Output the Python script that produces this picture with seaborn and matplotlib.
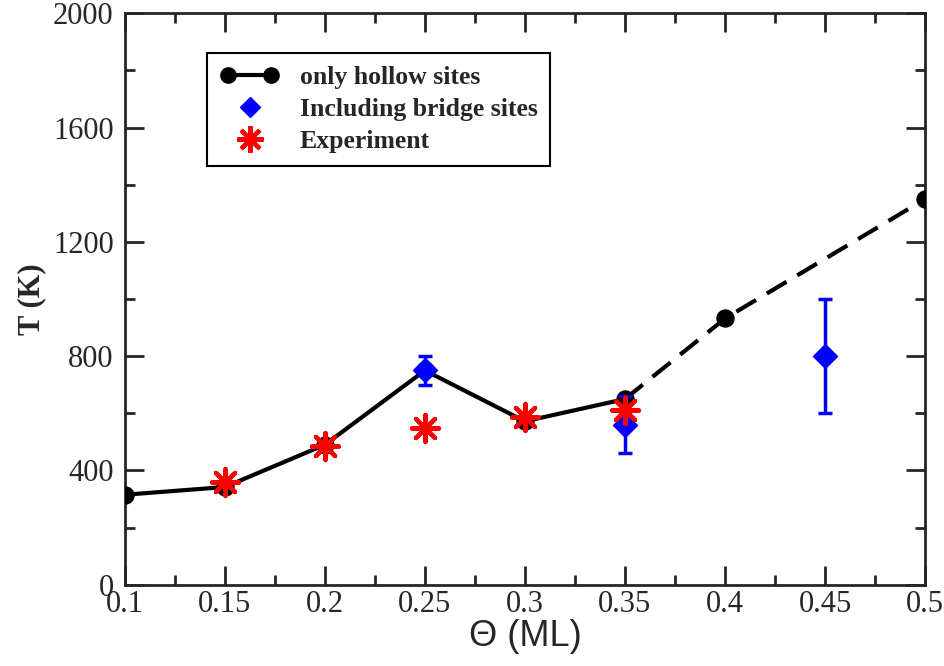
import numpy as np
import pandas as pd
import matplotlib
matplotlib.use('Agg')
import matplotlib.pyplot as plt
import seaborn as sns
from matplotlib.ticker import MultipleLocator
from matplotlib.lines import Line2D
from matplotlib.legend_handler import HandlerLine2D

# data
theta_hollow = [0.1, 0.15, 0.2, 0.25, 0.3, 0.35, 0.4, 0.5]
T_hollow = [315, 342, 490, 750, 572, 650, 932, 1350]
theta_bridge = [0.25, 0.35, 0.45]
T_bridge = [750, 560, 800]
T_bridge_err = [50, 100, 200]
theta_exp = [0.15, 0.2, 0.25, 0.3, 0.35]
T_exp = [358, 485, 550, 587, 612]

sns.set_style('ticks')
plt.rcParams['font.family'] = ['Liberation Serif', 'DejaVu Serif']

df_h = pd.DataFrame({'theta': theta_hollow, 'T': T_hollow})
solid = df_h[df_h.theta <= 0.35]
dashed = df_h[df_h.theta >= 0.35]

fig = plt.figure(figsize=(9.45, 6.66), dpi=100)
ax = fig.add_axes([0.132, 0.122, 0.847, 0.858])

sns.lineplot(data=solid, x='theta', y='T', ax=ax, color='black', lw=3, zorder=2)
sns.lineplot(data=dashed, x='theta', y='T', ax=ax, color='black', lw=3,
             linestyle=(0, (5.5, 3)), zorder=2)
sns.scatterplot(data=df_h, x='theta', y='T', ax=ax, color='black', s=150,
                marker='o', edgecolor='black', zorder=3)

ax.errorbar(theta_bridge, T_bridge, yerr=T_bridge_err, fmt='none', ecolor='blue',
            elinewidth=2.5, capsize=5, capthick=2.5, zorder=4)
sns.scatterplot(x=theta_bridge, y=T_bridge, ax=ax, color='blue', marker='D',
                s=150, edgecolor='blue', zorder=5)
sns.scatterplot(x=theta_exp, y=T_exp, ax=ax, color='red', marker=(8, 2, 0),
                s=380, linewidth=3, edgecolor='red', zorder=6)

ax.set_xlim(0.1, 0.5)
ax.set_ylim(0, 2000)
ax.xaxis.set_minor_locator(MultipleLocator(0.025))
ax.yaxis.set_major_locator(MultipleLocator(400))
ax.yaxis.set_minor_locator(MultipleLocator(200))
ax.set_xticks(np.arange(0.1, 0.501, 0.05))
ax.set_xticklabels(['0.1', '0.15', '0.2', '0.25', '0.3', '0.35', '0.4', '0.45', '0.5'])
ax.tick_params(which='both', direction='in', top=True, right=True, width=2,
               labelsize=22)
ax.tick_params(axis='x', pad=4)
ax.tick_params(axis='y', pad=8)
ax.tick_params(which='major', length=14)
ax.tick_params(which='minor', length=7)
for sp in ax.spines.values():
    sp.set_linewidth(2)

ax.set_xlabel('Θ (ML)', family='Liberation Sans', fontsize=26, labelpad=0)
ax.set_ylabel('T (K)', fontsize=22, fontweight='bold', labelpad=5)

handles = [
    Line2D([], [], color='black', lw=3, marker='o', markersize=11),
    Line2D([], [], color='blue', lw=0, marker='D', markersize=10),
    Line2D([], [], color='red', lw=0, marker=(8, 2, 0), markersize=19, markeredgewidth=3),
]
labels = ['only hollow sites', 'Including bridge sites', 'Experiment']
leg = ax.legend(handles, labels, loc='upper left', bbox_to_anchor=(0.103, 0.93),
                frameon=True, fancybox=False, edgecolor='black', framealpha=1,
                prop={'family': 'Liberation Serif', 'weight': 'bold', 'size': 18.5},
                handlelength=2.3, labelspacing=0.35, borderpad=0.5, handletextpad=0.8,
                borderaxespad=0,
                handler_map={handles[0]: HandlerLine2D(numpoints=2),
                             handles[1]: HandlerLine2D(numpoints=1),
                             handles[2]: HandlerLine2D(numpoints=1)})
leg.get_frame().set_linewidth(1.5)

fig.savefig('out.png', dpi=100)
